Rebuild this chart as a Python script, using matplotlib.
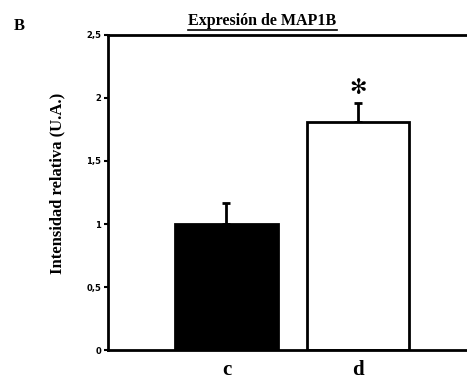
import numpy as np
import matplotlib
matplotlib.use('Agg')
import matplotlib.pyplot as plt
from matplotlib.lines import Line2D
from matplotlib.ticker import FuncFormatter

categories = ['c', 'd']
values = [1.0, 1.81]
errors = [0.17, 0.15]
bar_colors = ['black', 'white']
yticks = [0, 0.5, 1, 1.5, 2, 2.5]

SERIF = ['Liberation Serif', 'DejaVu Serif']

fig = plt.figure(figsize=(4.67, 3.84), dpi=100)
ax = fig.add_axes([0.2313, 0.0885, 0.7687, 0.8204])

x = np.arange(len(categories))
ax.bar(x, values, width=0.78, color=bar_colors, edgecolor='black', linewidth=2, zorder=2)
ax.errorbar(x, values, yerr=[np.zeros(len(errors)), errors], fmt='none',
            ecolor='black', elinewidth=2, capsize=3, capthick=2, zorder=1)

# significance marker above d
ax.text(x[1], 2.08, '✻', ha='center', va='center',
        fontsize=15, fontweight='bold', family=['DejaVu Sans'])

ax.set_xlim(-0.901, 1.829)
ax.set_ylim(0, 2.5)
ax.set_xticks(x)
ax.set_xticklabels(categories, fontsize=15, fontweight='bold', family=SERIF)
ax.tick_params(axis='x', length=0, pad=7)
ax.set_yticks(yticks)
ax.yaxis.set_major_formatter(FuncFormatter(lambda v, p: f'{v:g}'.replace('.', ',')))
ax.tick_params(axis='y', direction='out', length=3, width=1.5, labelsize=6, pad=2)
for lab in ax.get_yticklabels():
    lab.set_fontweight('bold')

for s in ['left', 'top', 'bottom']:
    ax.spines[s].set_linewidth(2)
ax.spines['right'].set_visible(False)

ax.set_ylabel('Intensidad relativa (U.A.)', fontsize=12, fontweight='bold',
              family=SERIF)
ax.yaxis.set_label_coords(-0.12, 0.53)

title = fig.text(0.562, 0.945, 'Expresión de MAP1B', ha='center', va='center',
                 fontsize=11.5, fontweight='bold', family=SERIF)
fig.text(0.042, 0.932, 'B', ha='center', va='center', fontsize=12,
         fontweight='bold', family=SERIF)

# underline the title
fig.canvas.draw()
bb = title.get_window_extent().transformed(fig.transFigure.inverted())
fig.add_artist(Line2D([bb.x0, bb.x1], [bb.y0 - 0.003, bb.y0 - 0.003],
                      color='black', linewidth=1.2, transform=fig.transFigure))

fig.savefig('out.png', dpi=100)
